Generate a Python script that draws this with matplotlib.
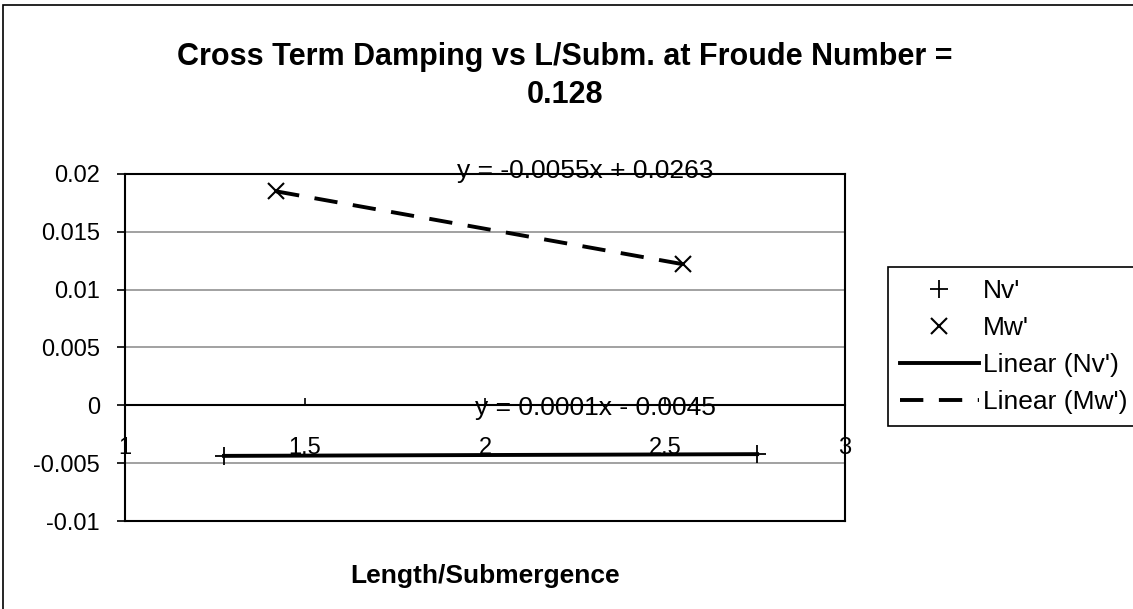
import numpy as np
import matplotlib
matplotlib.use("Agg")
import matplotlib.pyplot as plt
from matplotlib.patches import Rectangle

# values
nv_x = [1.275, 2.756]
nv_y = [-0.00437, -0.00422]
mw_x = [1.42, 2.55]
mw_y = [0.0185, 0.0122]
x_ticks = [1, 1.5, 2, 2.5, 3]
y_ticks = [-0.01, -0.005, 0, 0.005, 0.01, 0.015, 0.02]
eq_nv = "y = 0.0001x - 0.0045"
eq_mw = "y = -0.0055x + 0.0263"
title = "Cross Term Damping vs L/Subm. at Froude Number =\n0.128"

plt.rcParams['font.family'] = ['Liberation Sans', 'DejaVu Sans']

fig = plt.figure(figsize=(11.33, 6.09), dpi=100)
ax = fig.add_axes([125/1133, 1-521/609, 720/1133, 347/609])

# outer chart border (bottom edge falls outside the picture)
fig.patches.append(Rectangle((3/1133, -0.1), 1.2, 1.1-5/609, transform=fig.transFigure,
                             fill=False, edgecolor='black', linewidth=1.2))

ax.set_xlim(1, 3)
ax.set_ylim(-0.01, 0.02)
ax.set_yticks(y_ticks)
ax.set_yticklabels(['-0.01', '-0.005', '0', '0.005', '0.01', '0.015', '0.02'])
ax.set_xticks(x_ticks)
ax.set_xticklabels(['1', '1.5', '2', '2.5', '3'])
ax.yaxis.grid(True, color='#888888', linewidth=1.1)
ax.set_axisbelow(True)

# x axis crosses at y = 0, plot area border drawn separately
ax.spines['bottom'].set_position(('data', 0))
ax.axhline(-0.01, color='black', linewidth=1.5, clip_on=False)
for s in ['top', 'left', 'right', 'bottom']:
    ax.spines[s].set_linewidth(1.5)
ax.tick_params(axis='y', direction='out', length=6, width=1.2, pad=12, labelsize=17)
ax.tick_params(axis='x', direction='in', length=5, width=1.2, pad=23, labelsize=17)

# data points
ax.plot(nv_x, nv_y, '+', color='black', markersize=13, mew=1.3, label="Nv'")
ax.plot(mw_x, mw_y, 'x', color='black', markersize=12, mew=1.5, label="Mw'")

# linear trendlines
p_nv = np.polyfit(nv_x, nv_y, 1)
p_mw = np.polyfit(mw_x, mw_y, 1)
xs = np.array([min(nv_x), max(nv_x)])
ax.plot(xs, np.polyval(p_nv, xs), '-', color='black', linewidth=2.8, label="Linear (Nv')")
xs = np.array([min(mw_x), max(mw_x)])
ax.plot(xs, np.polyval(p_mw, xs), '--', color='black', linewidth=2.8, dashes=(6, 4), label="Linear (Mw')")

ax.text(2.278, 0.0203, eq_mw, ha='center', va='center', fontsize=19, clip_on=False)
ax.text(2.306, -0.00026, eq_nv, ha='center', va='center', fontsize=19)

fig.text(565/1133, 1-76/609, title, ha='center', va='center', fontsize=22,
         fontweight='bold', linespacing=1.35)
ax.set_xlabel('Length/Submergence', fontsize=19, fontweight='bold', va='center')
ax.xaxis.set_label_coords(0.5, -0.158)

leg = fig.legend(loc='upper left', bbox_to_anchor=(888/1133, 1-267/609), fontsize=19,
                 frameon=True, fancybox=False, edgecolor='black', framealpha=1,
                 handlelength=3.0, handletextpad=0.15, labelspacing=0.5,
                 borderpad=0.45, borderaxespad=0)
leg.get_frame().set_linewidth(1.2)

fig.savefig('out.png', dpi=100)
